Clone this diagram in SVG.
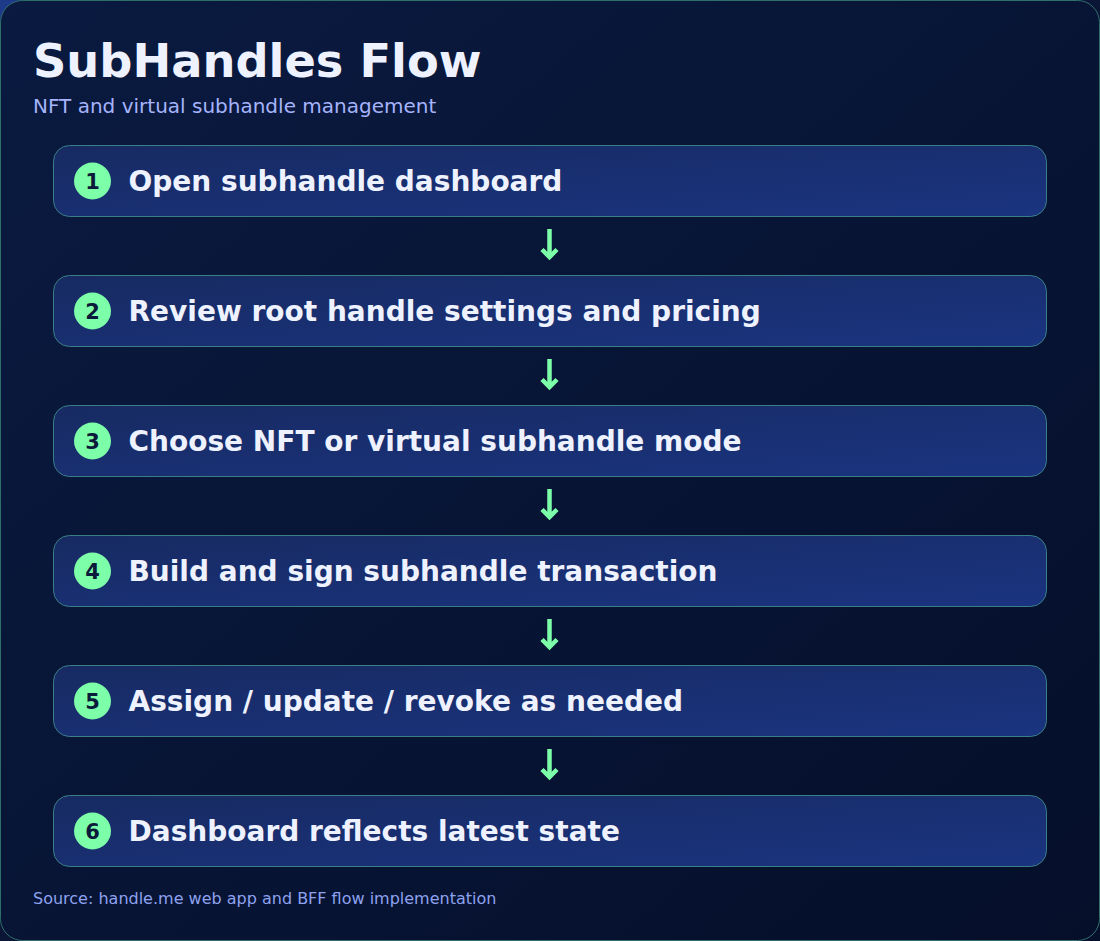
<svg xmlns="http://www.w3.org/2000/svg" width="1100" height="941" viewBox="0 0 1100 941">
<defs>
<linearGradient id="pageBg" x1="0" y1="0" x2="1" y2="1">
<stop offset="0" stop-color="#1e3a8a"/>
<stop offset="0.5" stop-color="#0b1636"/>
<stop offset="1" stop-color="#060f2a"/>
</linearGradient>
<linearGradient id="cardBg" x1="0" y1="0" x2="1" y2="1">
<stop offset="0" stop-color="#0a1a40"/>
<stop offset="1" stop-color="#050f2a"/>
</linearGradient>
<linearGradient id="nodeBg" x1="0" y1="0" x2="1" y2="1">
<stop offset="0" stop-color="#172a62"/>
<stop offset="1" stop-color="#1a3480"/>
</linearGradient>
</defs>
<style>
.node rect.box{fill:url(#nodeBg);stroke:#3b7f86;stroke-width:1}
.node circle{fill:#7dffa9}
.num{font-family:"DejaVu Sans",sans-serif;font-weight:bold;font-size:21px;fill:#0b1a3a;text-anchor:middle}
.label{font-family:"DejaVu Sans",sans-serif;font-weight:bold;font-size:28px;fill:#eef2ff}
.arrow{fill:none;stroke:#7dffa9;stroke-width:4.5}
</style>
<rect width="1100" height="941" fill="url(#pageBg)"/>
<rect x="0.5" y="0.5" width="1099" height="940" rx="22" fill="url(#cardBg)" stroke="#2f6f6a" stroke-width="1"/>
<text x="33" y="77" font-family="DejaVu Sans, sans-serif" font-weight="bold" font-size="46.3" fill="#eef2ff">SubHandles Flow</text>
<text x="33" y="113" font-family="DejaVu Sans, sans-serif" font-size="20" fill="#a5b4fc">NFT and virtual subhandle management</text>

<g id="connectors">
<g class="arrow"><path d="M549.5 229V257"/><path d="M542 249.5L549.5 257L557 249.5"/></g>
<g class="arrow"><path d="M549.5 359V387"/><path d="M542 379.5L549.5 387L557 379.5"/></g>
<g class="arrow"><path d="M549.5 489V517"/><path d="M542 509.5L549.5 517L557 509.5"/></g>
<g class="arrow"><path d="M549.5 619V647"/><path d="M542 639.5L549.5 647L557 639.5"/></g>
<g class="arrow"><path d="M549.5 749V777"/><path d="M542 769.5L549.5 777L557 769.5"/></g>
</g>

<g id="node1" class="node"><rect class="box" x="53.5" y="145.5" width="993" height="71" rx="16"/><circle cx="92.5" cy="181" r="18.5"/><text class="num" x="92.5" y="188.5">1</text><text class="label" x="128.5" y="191">Open subhandle dashboard</text></g>
<g id="node2" class="node"><rect class="box" x="53.5" y="275.5" width="993" height="71" rx="16"/><circle cx="92.5" cy="311" r="18.5"/><text class="num" x="92.5" y="318.5">2</text><text class="label" x="128.5" y="321">Review root handle settings and pricing</text></g>
<g id="node3" class="node"><rect class="box" x="53.5" y="405.5" width="993" height="71" rx="16"/><circle cx="92.5" cy="441" r="18.5"/><text class="num" x="92.5" y="448.5">3</text><text class="label" x="128.5" y="451">Choose NFT or virtual subhandle mode</text></g>
<g id="node4" class="node"><rect class="box" x="53.5" y="535.5" width="993" height="71" rx="16"/><circle cx="92.5" cy="571" r="18.5"/><text class="num" x="92.5" y="578.5">4</text><text class="label" x="128.5" y="581">Build and sign subhandle transaction</text></g>
<g id="node5" class="node"><rect class="box" x="53.5" y="665.5" width="993" height="71" rx="16"/><circle cx="92.5" cy="701" r="18.5"/><text class="num" x="92.5" y="708.5">5</text><text class="label" x="128.5" y="711">Assign / update / revoke as needed</text></g>
<g id="node6" class="node"><rect class="box" x="53.5" y="795.5" width="993" height="71" rx="16"/><circle cx="92.5" cy="831" r="18.5"/><text class="num" x="92.5" y="838.5">6</text><text class="label" x="128.5" y="841">Dashboard reflects latest state</text></g>

<text x="33" y="904" font-family="DejaVu Sans, sans-serif" font-size="16" fill="#8ea2f0">Source: handle.me web app and BFF flow implementation</text>
</svg>
